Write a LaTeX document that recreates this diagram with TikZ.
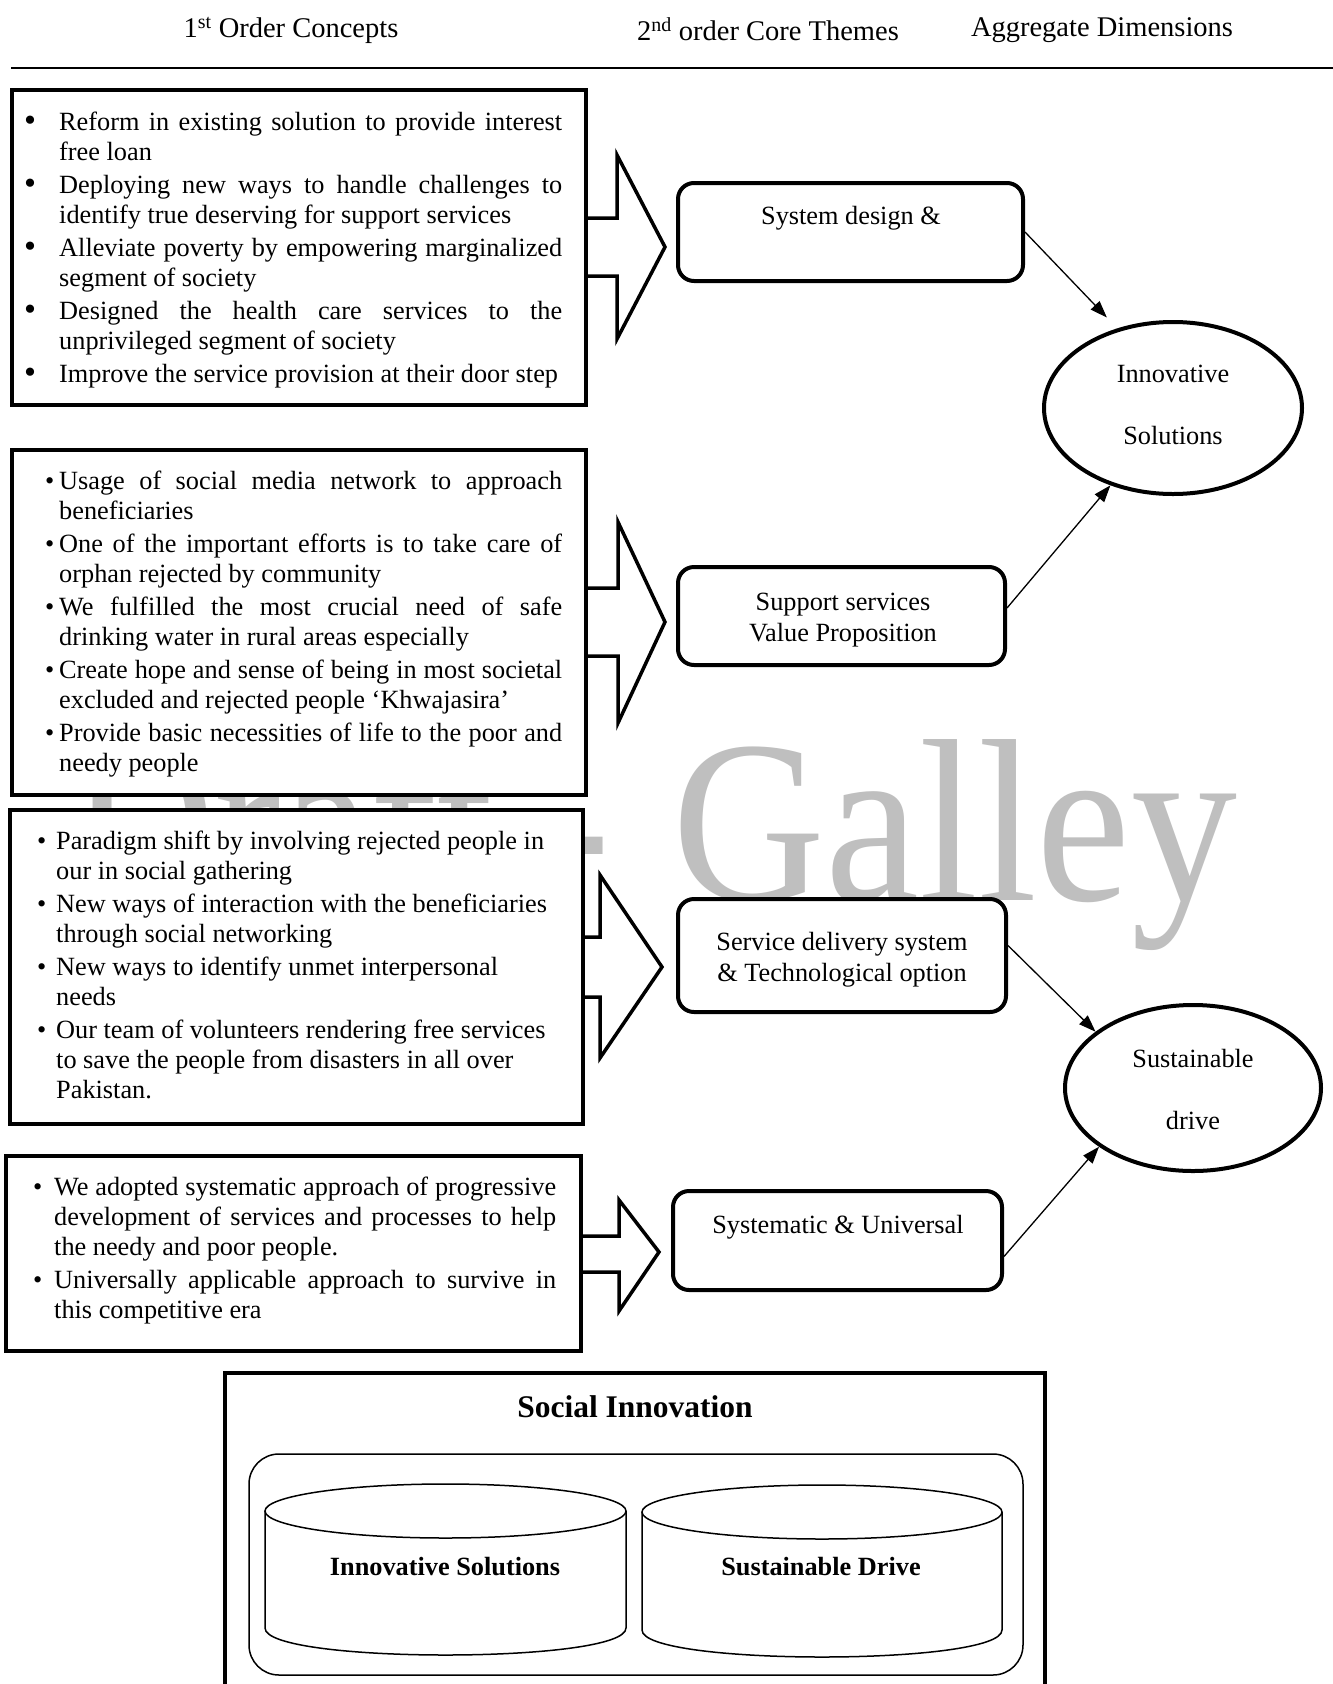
\documentclass[tikz,border=0pt]{standalone}
\usepackage{fontspec}
\usepackage{graphicx}
\setmainfont{Liberation Serif}
\usetikzlibrary{arrows.meta,shapes.geometric,calc}

\newcommand\jl[2][503pt]{\makebox[#1][s]{#2}}
\newcommand\bA{\makebox[35pt][l]{\raisebox{-1.5pt}{\scalebox{1.3}{\textbullet}}}}
\newcommand\bB[1]{\makebox[#1][l]{\textbullet}}

\tikzset{
  body/.style={font=\fontsize{26.3}{30}\selectfont},
  twoline/.style={font=\fontsize{26.3}{31}\selectfont, inner sep=0pt, align=center},
  listbox/.style={draw, line width=4.5pt, fill=white, rectangle, inner sep=0pt},
  listtext/.style={body, anchor=west, inner sep=0pt},
  blk/.style={draw, line width=3.5pt, fill=white, line join=miter, miter limit=20},
  rbox/.style={draw, line width=4pt, rounded corners=16pt, fill=white, inner sep=0pt},
  oval/.style={draw, ellipse, line width=4pt, fill=white, inner sep=0pt, align=center, body},
  conn/.style={line width=1.3pt, -{Triangle[length=17pt,width=12pt]}},
  head/.style={font=\fontsize{28.5}{32}\selectfont, inner sep=0pt},
  cyl/.style={line width=1.5pt},
  boldlab/.style={font=\fontsize{26.3}{30}\selectfont\bfseries, inner sep=0pt},
  wmark/.style={anchor=base west, inner sep=0pt, text=black!25, font=\fontsize{232}{232}\selectfont}
}

\begin{document}
\begin{tikzpicture}[x=1pt,y=-1pt]
\useasboundingbox (0,0) rectangle (1333,1684);
\fill[white] (0,0) rectangle (1333,1684);

% watermark
\node[wmark] (wm1) at (70,900) {\scalebox{0.864}[1]{Draft -}};
\node[wmark] (wm2) at (672,900) {\scalebox{0.913}[1]{Galley}};

% headers
\node[head] (h1) at (291,30) {1\textsuperscript{st} Order Concepts};
\node[head] (h2) at (768,29) {2\textsuperscript{nd} order Core Themes};
\node[head] (h3) at (1102,30) {Aggregate Dimensions};
\draw[line width=2.2pt] (11,68) coordinate (hlA) -- (1333,68) coordinate (hlB);

% block arrows (drawn before boxes)
\coordinate (b1e) at (586,0);
\coordinate (b2e) at (586,0);
\coordinate (b3e) at (583,0);
\coordinate (b4e) at (581,0);
\draw[blk] (b1e |- 0,218) -- (617,218) -- (617,155) -- (665,247) -- (617,339) -- (617,276) -- (b1e |- 0,276);
\draw[blk] (b2e |- 0,588) -- (618,588) -- (618,522) -- (665,622) -- (618,723) -- (618,656) -- (b2e |- 0,656);
\draw[blk] (b3e |- 0,937) -- (600,937) -- (600,875) -- (662,967) -- (600,1058) -- (600,997) -- (b3e |- 0,997);
\draw[blk] (b4e |- 0,1236) -- (619,1236) -- (619,1200) -- (659,1252) -- (619,1311) -- (619,1272) -- (b4e |- 0,1272);

% list boxes
\node[listbox, minimum width=574pt, minimum height=315pt] (b1) at (299,247.5) {};
\node[listbox, minimum width=574pt, minimum height=345pt] (b2) at (299,622.5) {};
\node[listbox, minimum width=573pt, minimum height=314pt] (b3) at (296.5,967) {};
\node[listbox, minimum width=575pt, minimum height=195pt] (b4) at (293.5,1253.5) {};

\node[listtext] (t1) at (24,250) {\begin{tabular}{@{}l@{}l@{}}
\bA & \jl{Reform in existing solution to provide interest}\\
 & free loan\\[3pt]
\bA & \jl{Deploying new ways to handle challenges to}\\
 & identify true deserving for support services\\[3pt]
\bA & \jl{Alleviate poverty by empowering marginalized}\\
 & segment of society\\[3pt]
\bA & \jl{Designed the health care services to the}\\
 & unprivileged segment of society\\[3pt]
\bA & Improve the service provision at their door step
\end{tabular}};

\node[listtext] (t2) at (45,624.5) {\begin{tabular}{@{}l@{}l@{}}
\bB{14pt} & \jl{Usage of social media network to approach}\\
 & beneficiaries\\[3pt]
\bB{14pt} & \jl{One of the important efforts is to take care of}\\
 & orphan rejected by community\\[3pt]
\bB{14pt} & \jl{We fulfilled the most crucial need of safe}\\
 & drinking water in rural areas especially\\[3pt]
\bB{14pt} & \jl{Create hope and sense of being in most societal}\\
 & excluded and rejected people ‘Khwajasira’\\[3pt]
\bB{14pt} & \jl{Provide basic necessities of life to the poor and}\\
 & needy people
\end{tabular}};

\node[listtext] (t3) at (37,968) {\begin{tabular}{@{}l@{}l@{}}
\bB{19pt} & Paradigm shift by involving rejected people in\\
 & our in social gathering\\[3pt]
\bB{19pt} & New ways of interaction with the beneficiaries\\
 & through social networking\\[3pt]
\bB{19pt} & New ways to identify unmet interpersonal\\
 & needs\\[3pt]
\bB{19pt} & Our team of volunteers rendering free services\\
 & to save the people from disasters in all over\\
 & Pakistan.
\end{tabular}};

\node[listtext] (t4) at (33,1251) {\begin{tabular}{@{}l@{}l@{}}
\bB{21pt} & \jl[502pt]{We adopted systematic approach of progressive}\\
 & \jl[502pt]{development of services and processes to help}\\
 & the needy and poor people.\\[3pt]
\bB{21pt} & \jl[502pt]{Universally applicable approach to survive in}\\
 & this competitive era
\end{tabular}};

% second order themes
\node[rbox, minimum width=345pt, minimum height=98pt] (r1) at (850.5,232) {};
\node[body, inner sep=0pt] (r1t) at (851,218) {System design \&};
\node[rbox, minimum width=327pt, minimum height=98pt] (r2) at (841.5,616) {};
\node[twoline] (r2t) at (843,620) {Support services\\Value Proposition};
\node[rbox, minimum width=328pt, minimum height=113pt] (r3) at (842,955.5) {};
\node[twoline] (r3t) at (842,960) {Service delivery system\\\& Technological option};
\node[rbox, minimum width=329pt, minimum height=99pt] (r4) at (837.5,1240.5) {};
\node[body, inner sep=0pt] (r4t) at (838,1227) {Systematic \& Universal};

% aggregate dimensions
\node[oval, minimum width=258pt, minimum height=172pt] (e1) at (1173,408) {};
\node[twoline] (e1t) at (1173,405) {Innovative\\[31pt]Solutions};
\node[oval, minimum width=256pt, minimum height=166pt] (e2) at (1193,1088) {};
\node[twoline] (e2t) at (1193,1089) {Sustainable\\[31pt]drive};

\draw[conn, shorten >=15pt] (r1.east) -- (e1.125);
\draw[conn] ([yshift=8pt]r2.east) -- (e1.231);
\draw[conn] ([yshift=10pt]r3.east) -- (e2.150);
\draw[conn] ([yshift=-16pt]r4.east) -- (e2.212);

% social innovation
\draw[line width=4pt, fill=white] (225,1373) rectangle (1045,1700);
\node[inner sep=0pt, font=\fontsize{31.5}{34}\selectfont\bfseries] (si) at (635,1407) {Social Innovation};
\draw[line width=1.5pt, rounded corners=30pt] (249,1454) rectangle (1023,1675);
\draw[cyl] (445.5,1511) ellipse [x radius=180.5, y radius=27];
\draw[cyl] (265,1511) -- (265,1628) .. controls (265,1664) and (626,1664) .. (626,1628) -- (626,1511);
\draw[cyl] (822,1512) ellipse [x radius=180, y radius=27];
\draw[cyl] (642,1512) -- (642,1630) .. controls (642,1666) and (1002,1666) .. (1002,1630) -- (1002,1512);
\node[boldlab] (c1) at (445,1567) {Innovative Solutions};
\node[boldlab] (c2) at (821,1567) {Sustainable Drive};
\end{tikzpicture}
\end{document}
